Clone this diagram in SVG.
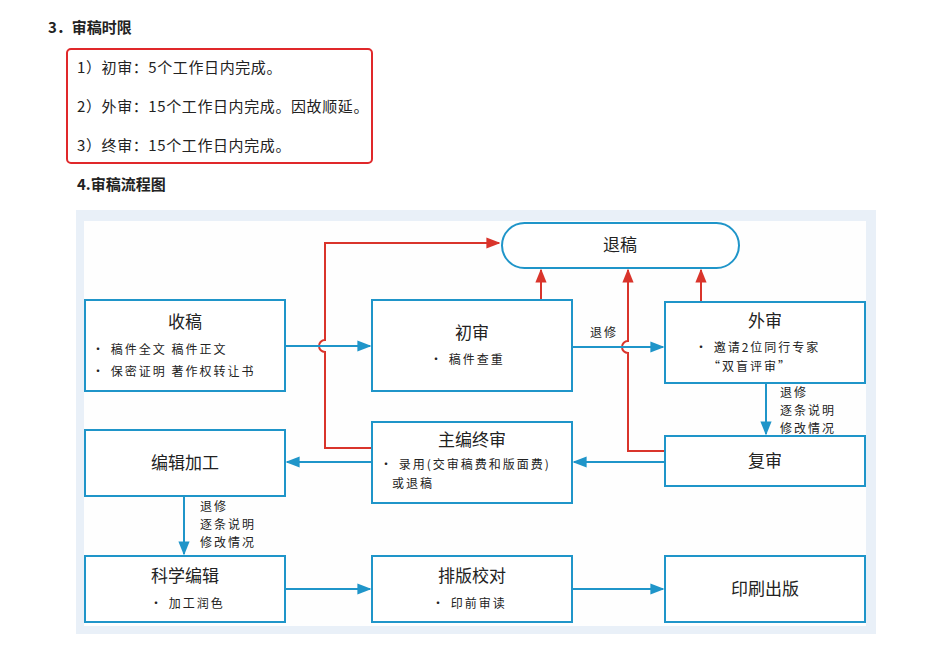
<svg xmlns="http://www.w3.org/2000/svg" width="951" height="654" viewBox="0 0 951 654">
<defs>
<marker id="ab" viewBox="0 0 10 10" refX="9" refY="5" markerWidth="7" markerHeight="7" orient="auto"><path d="M0,1 L10,5 L0,9 Z" fill="#1f95c9"/></marker>
<marker id="ar" viewBox="0 0 10 10" refX="9" refY="5" markerWidth="7" markerHeight="7" orient="auto"><path d="M0,1 L10,5 L0,9 Z" fill="#d9342b"/></marker>
</defs>
<style>
text{font-family:"Noto Sans CJK SC","Liberation Sans",sans-serif;fill:#222}
.box{fill:#fff;stroke:#1f95c9;stroke-width:2}
.t{font-size:17px;text-anchor:middle}
.s{font-size:12px;font-family:"Noto Sans CJK SC",serif;letter-spacing:2px}
.b{fill:none;stroke:#1f95c9;stroke-width:2}
.r{fill:none;stroke:#d9342b;stroke-width:2}
.h{font-size:15px;font-weight:bold}
.p{font-size:15px;letter-spacing:0.6px}
</style>
<rect width="951" height="654" fill="#fff"/>
<text x="48" y="33" class="h">3．审稿时限</text>
<rect x="67" y="49" width="305" height="114" rx="4" fill="none" stroke="#e0282a" stroke-width="2"/>
<text x="77" y="73" class="p">1）初审：5个工作日内完成。</text>
<text x="77" y="112" class="p">2）外审：15个工作日内完成。因故顺延。</text>
<text x="77" y="151" class="p">3）终审：15个工作日内完成。</text>
<text x="77" y="190" class="h">4.审稿流程图</text>
<rect x="76" y="210" width="800" height="424" fill="#e9f0f8"/>
<rect x="84" y="221" width="782" height="405" fill="#fefefe"/>
<g id="connectors">
<path class="r" d="M372,448 H325 V352 A6,6 0 0 1 325,340 V243 H499" marker-end="url(#ar)"/>
<path class="r" d="M541,300 V270" marker-end="url(#ar)"/>
<path class="r" d="M701,302 V270" marker-end="url(#ar)"/>
<path class="r" d="M665,451 H628 V353 A6,6 0 0 1 628,341 V270" marker-end="url(#ar)"/>
<path class="b" d="M285,346 H370" marker-end="url(#ab)"/>
<path class="b" d="M572,347 H663" marker-end="url(#ab)"/>
<path class="b" d="M766,383 V434" marker-end="url(#ab)"/>
<path class="b" d="M665,462 H574" marker-end="url(#ab)"/>
<path class="b" d="M372,462 H287" marker-end="url(#ab)"/>
<path class="b" d="M184,496 V554" marker-end="url(#ab)"/>
<path class="b" d="M285,589 H370" marker-end="url(#ab)"/>
<path class="b" d="M572,589 H663" marker-end="url(#ab)"/>
<text x="590" y="337" class="s">退修</text>
<text x="780" y="397" class="s">退修</text>
<text x="780" y="415" class="s">逐条说明</text>
<text x="780" y="433" class="s">修改情况</text>
<text x="200" y="511" class="s">退修</text>
<text x="200" y="529" class="s">逐条说明</text>
<text x="200" y="547" class="s">修改情况</text>
</g>
<g id="tuigao"><rect class="box" x="502" y="223" width="237" height="45" rx="22.5"/><text class="t" x="620" y="251">退稿</text></g>
<g id="shougao"><rect class="box" x="85" y="300" width="200" height="91"/><text class="t" x="185" y="328">收稿</text><text class="s" x="92" y="354">• 稿件全文  稿件正文</text><text class="s" x="92" y="376">• 保密证明  著作权转让书</text></g>
<g id="chushen"><rect class="box" x="372" y="300" width="200" height="91"/><text class="t" x="472" y="339">初审</text><text class="s" x="430" y="364">•  稿件查重</text></g>
<g id="waishen"><rect class="box" x="665" y="302" width="200" height="81"/><text class="t" x="765" y="327">外审</text><text class="s" x="695" y="352">• 邀请2位同行专家</text><text class="s" x="708" y="371">“双盲评审”</text></g>
<g id="zhubian"><rect class="box" x="372" y="422" width="200" height="81"/><text class="t" x="472" y="446">主编终审</text><text class="s" x="380" y="469">• 录用(交审稿费和版面费)</text><text class="s" x="392" y="488">或退稿</text></g>
<g id="fushen"><rect class="box" x="665" y="436" width="200" height="50"/><text class="t" x="765" y="467">复审</text></g>
<g id="bianji"><rect class="box" x="85" y="430" width="200" height="66"/><text class="t" x="185" y="469">编辑加工</text></g>
<g id="kexue"><rect class="box" x="85" y="556" width="200" height="66"/><text class="t" x="185" y="582">科学编辑</text><text class="s" x="150" y="608">• 加工润色</text></g>
<g id="paiban"><rect class="box" x="372" y="556" width="200" height="66"/><text class="t" x="472" y="582">排版校对</text><text class="s" x="432" y="608">•  印前审读</text></g>
<g id="yinshua"><rect class="box" x="665" y="556" width="200" height="66"/><text class="t" x="765" y="595">印刷出版</text></g>
</svg>
